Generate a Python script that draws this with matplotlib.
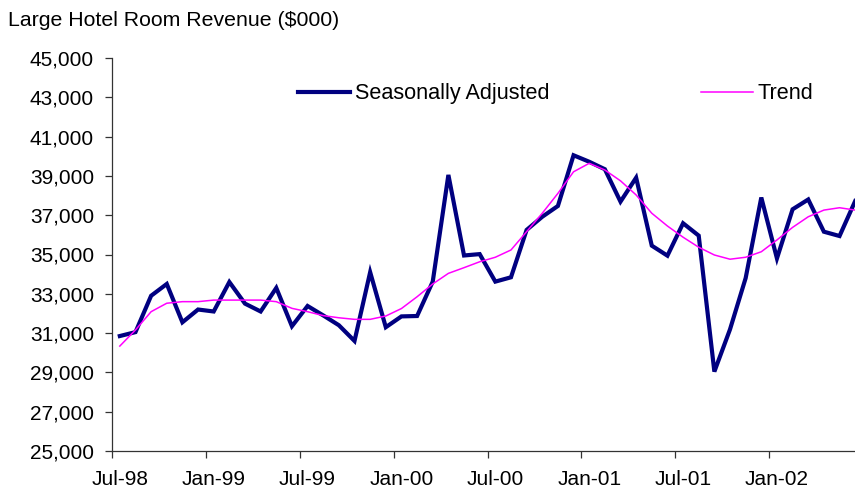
import matplotlib
matplotlib.use("Agg")
import matplotlib.pyplot as plt
import numpy as np
import pandas as pd
from matplotlib.ticker import FuncFormatter

plt.rcParams["font.family"] = ["Liberation Sans", "DejaVu Sans"]

# monthly categories, Jul-98 .. Jun-02
MONTHS = pd.date_range("1998-07-01", periods=48, freq="MS")
TICK_LABELS = ["Jul-98", "Jan-99", "Jul-99", "Jan-00", "Jul-00", "Jan-01", "Jul-01", "Jan-02"]

SEASONALLY_ADJUSTED = [
    30850, 31050, 32900, 33500, 31550, 32200, 32100, 33600, 32500, 32100,
    33300, 31350, 32380, 31900, 31400, 30600, 34100, 31300, 31850, 31870,
    33620, 39050, 34950, 35020, 33620, 33840, 36250, 36920, 37470, 40050,
    39720, 39340, 37690, 38910, 35450, 34940, 36590, 35960, 29040, 31190,
    33800, 37900, 34800, 37300, 37800, 36160, 35940, 37720,
]
TREND = [
    30340, 31160, 32090, 32520, 32600, 32600, 32680, 32680, 32680, 32680,
    32600, 32260, 32090, 31890, 31780, 31700, 31700, 31870, 32250, 32850,
    33500, 34040, 34330, 34630, 34860, 35230, 36160, 37100, 38110, 39210,
    39640, 39300, 38750, 38030, 37100, 36450, 35880, 35370, 34975, 34760,
    34860, 35140, 35740, 36380, 36920, 37260, 37380, 37260,
]

W, H = 855, 491
fig = plt.figure(figsize=(W / 100, H / 100), dpi=100)
# plot area runs a little past the right edge, as in the source
ax = fig.add_axes([112 / W, 1 - 451 / H, 751 / W, 393 / H])

x = np.arange(len(MONTHS))
ax.plot(x, SEASONALLY_ADJUSTED, color="#000080", lw=3.0, solid_joinstyle="miter",
        label="Seasonally Adjusted")
ax.plot(x, TREND, color="#FF00FF", lw=1.1, label="Trend")

ax.set_xlim(-0.5, len(MONTHS) - 0.5)
ax.set_ylim(25000, 45000)
ax.set_yticks(np.arange(25000, 45001, 2000))
ax.yaxis.set_major_formatter(FuncFormatter(lambda v, _p: f"{v:,.0f}"))

# ticks between categories, labels on the category
ax.set_xticks(np.arange(-0.5, len(MONTHS), 6))
ax.set_xticklabels([])
ax.set_xticks(np.arange(0, len(MONTHS), 6), minor=True)
ax.set_xticklabels(TICK_LABELS, minor=True)
ax.tick_params(axis="x", which="major", length=5, width=0.9, color="#333333")
ax.tick_params(axis="x", which="minor", length=0, pad=14, labelsize=15)
ax.tick_params(axis="y", length=5, width=0.9, color="#333333", pad=8, labelsize=15)

for side in ("top", "right"):
    ax.spines[side].set_visible(False)
for side in ("left", "bottom"):
    ax.spines[side].set_color("#333333")
    ax.spines[side].set_linewidth(0.9)

fig.legend(loc="center left", bbox_to_anchor=(298 / W, 1 - 94 / H), ncol=2,
           frameon=False, fontsize=15.6, handlelength=2.4, handletextpad=0.22,
           columnspacing=7.0, borderpad=0, borderaxespad=0)

fig.text(8 / W, 1 - 20 / H, "Large Hotel Room Revenue ($000)", fontsize=15.3,
         va="center", ha="left")

fig.savefig("out.png", dpi=100)
